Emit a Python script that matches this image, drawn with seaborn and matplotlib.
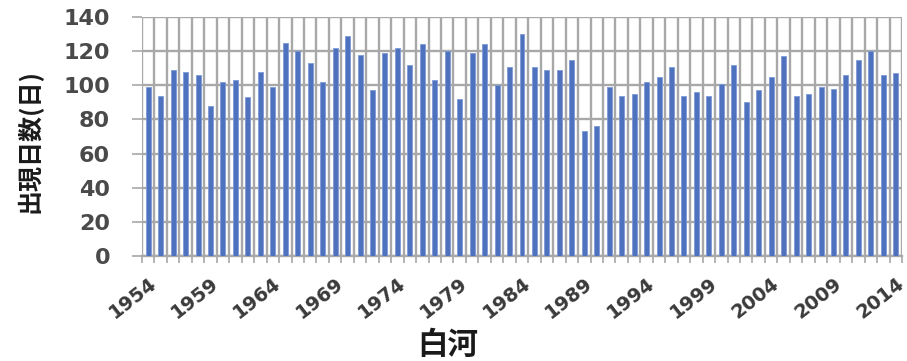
import matplotlib
matplotlib.use("Agg")
import matplotlib.pyplot as plt
import matplotlib.transforms as mtransforms
import seaborn as sns
import pandas as pd
import numpy as np

years = list(range(1954, 2015))
days = [99, 94, 109, 108, 106, 88, 102, 103, 93, 108,
        99, 125, 120, 113, 102, 122, 129, 118, 97, 119,
        122, 112, 124, 103, 120, 92, 119, 124, 100, 111,
        130, 111, 109, 109, 115, 73, 76, 99, 94, 95,
        102, 105, 111, 94, 96, 94, 101, 112, 90, 97,
        105, 117, 94, 95, 99, 98, 106, 115, 120, 106, 107]
yticks = [0, 20, 40, 60, 80, 100, 120, 140]
xlabel_text = "白河"
ylabel_text = "出現日数(日)"

sns.set_theme(style="white")
plt.rcParams['font.family'] = ['Noto Sans CJK JP', 'DejaVu Sans']

df = pd.DataFrame({"year": [str(y) for y in years], "days": days})

fig = plt.figure(figsize=(9.07, 3.61), dpi=100)
ax = fig.add_axes([142/907, 1-256/361, (902-142)/907, (256-17)/361])

grid_c = "#A8A8A8"
sns.barplot(data=df, x="year", y="days", color="#4E72BE", width=0.4,
            saturation=1, ax=ax, zorder=3, edgecolor="#7E9AD6", linewidth=0.6)

n = len(years)
ax.set_xlim(-0.5, n - 0.5)
ax.set_ylim(0, 140)
ax.set_yticks(yticks)
ax.set_yticklabels([str(v) for v in yticks], family="DejaVu Sans",
                   fontweight="bold", fontsize=16, color="#4a4a4a")

ax.set_xticks(range(0, n, 5))
ax.set_xticklabels([str(years[i]) for i in range(0, n, 5)], rotation=38,
                   ha="right", va="top", rotation_mode="anchor",
                   family="DejaVu Sans", fontweight="bold", fontsize=14,
                   color="#3a3a3a")
ax.set_xticks(np.arange(-0.5, n, 1.0), minor=True)
shift = mtransforms.ScaledTranslation(-6 / 100, 0, fig.dpi_scale_trans)
for lab in ax.get_xticklabels():
    lab.set_transform(lab.get_transform() + shift)

ax.grid(False)
ax.xaxis.grid(True, which="minor", color=grid_c, linewidth=1.7, zorder=0)
ax.yaxis.grid(True, which="major", color=grid_c, linewidth=1.7, zorder=0)
ax.set_axisbelow(True)

ax.tick_params(axis="x", which="major", length=0, pad=13)
ax.tick_params(axis="x", which="minor", length=5, width=1.2, color=grid_c,
               bottom=True)
ax.tick_params(axis="y", which="major", length=7, width=1.2, color=grid_c,
               left=True, pad=16)

for s in ["top", "right", "left"]:
    ax.spines[s].set_visible(False)
ax.spines["bottom"].set_color(grid_c)
ax.spines["bottom"].set_linewidth(1.7)

ax.set_xlabel(xlabel_text, fontsize=22, fontweight="bold", color="#1a1a1a")
ax.xaxis.set_label_coords((448 - 142) / 760, (256 - 361) / 239)
ax.xaxis.label.set_va("bottom")
ax.set_ylabel(ylabel_text, fontsize=18, fontweight="bold", color="#1a1a1a")
ax.yaxis.set_label_coords((30 - 142) / 760, 0.48)
ax.yaxis.label.set_va("center")

fig.savefig("out.png", dpi=100)
